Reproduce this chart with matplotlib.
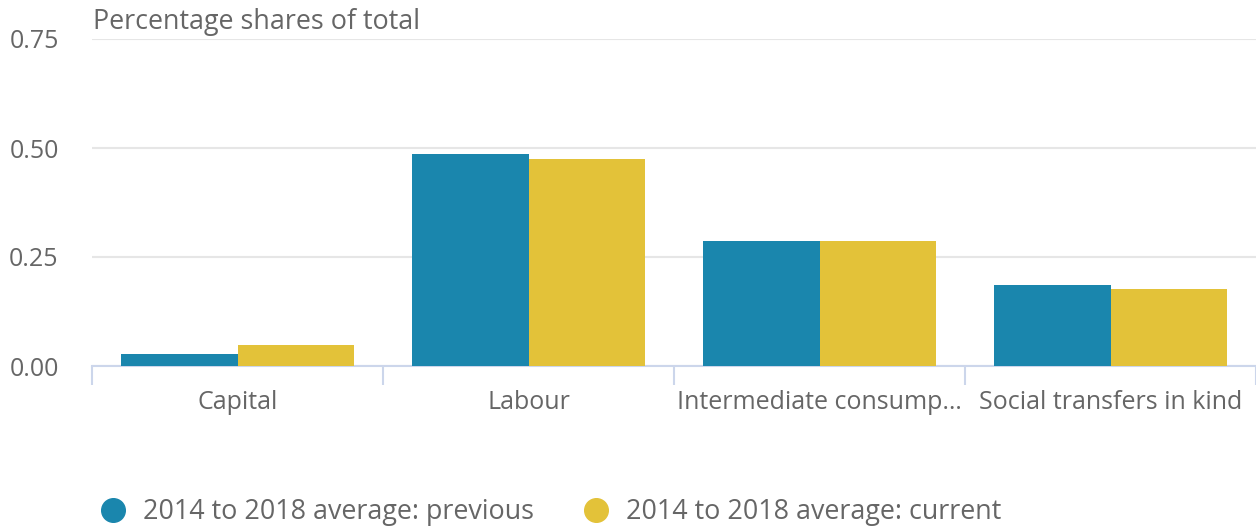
import matplotlib.pyplot as plt
from matplotlib.lines import Line2D
import numpy as np

plt.rcParams['font.family'] = ['Open Sans', 'DejaVu Sans']

# data
categories = ["Capital", "Labour", "Intermediate consump…", "Social transfers in kind"]
previous = [0.028, 0.486, 0.287, 0.186]
current = [0.048, 0.475, 0.287, 0.177]
series_names = ["2014 to 2018 average: previous", "2014 to 2018 average: current"]
colors = ["#1a86ad", "#e3c239"]
yticks = [0.0, 0.25, 0.5, 0.75]

txt = "#666666"
W, H = 1256, 526
fig = plt.figure(figsize=(W / 100, H / 100), dpi=100)
ax = fig.add_axes([92 / W, (H - 366) / H, (1256 - 92) / W, (366 - 39) / H])

x = np.arange(len(categories))
w = 0.402
ax.bar(x - w / 2, previous, w, color=colors[0], zorder=3)
ax.bar(x + w / 2, current, w, color=colors[1], zorder=3)

ax.set_xlim(-0.5, len(categories) - 0.5)
ax.set_ylim(0, 0.75)
ax.set_yticks(yticks)
ax.set_yticklabels([f"{v:.2f}" for v in yticks])
ax.yaxis.grid(True, color="#e6e6e6", linewidth=1.5, zorder=0)
ax.tick_params(axis='y', length=0, pad=24, labelsize=18, labelcolor=txt)

ax.set_xticks(x)
ax.set_xticklabels(categories)
ax.tick_params(axis='x', which='major', length=0, pad=17.5, labelsize=18, labelcolor=txt)
ax.set_xticks(np.arange(-0.5, len(categories)), minor=True)
ax.tick_params(axis='x', which='minor', length=14, width=1.5, color="#ccd6eb")

for s in ['top', 'right', 'left']:
    ax.spines[s].set_visible(False)
ax.spines['bottom'].set_color("#ccd6eb")
ax.spines['bottom'].set_linewidth(1.5)

fig.text(93 / W, 1 - 22 / H, "Percentage shares of total", fontsize=19.4, color=txt, va='center', ha='left')

handles = [Line2D([], [], marker='o', linestyle='', markersize=17, color=c) for c in colors]
leg = fig.legend(handles, series_names, loc='center left', bbox_to_anchor=(99.5 / W, 1 - 512 / H),
                 ncol=2, frameon=False, fontsize=19.4, handletextpad=0.61, columnspacing=1.8,
                 handlelength=1.0, borderaxespad=0, borderpad=0)
for t in leg.get_texts():
    t.set_color(txt)

fig.savefig("out.png", dpi=100)
